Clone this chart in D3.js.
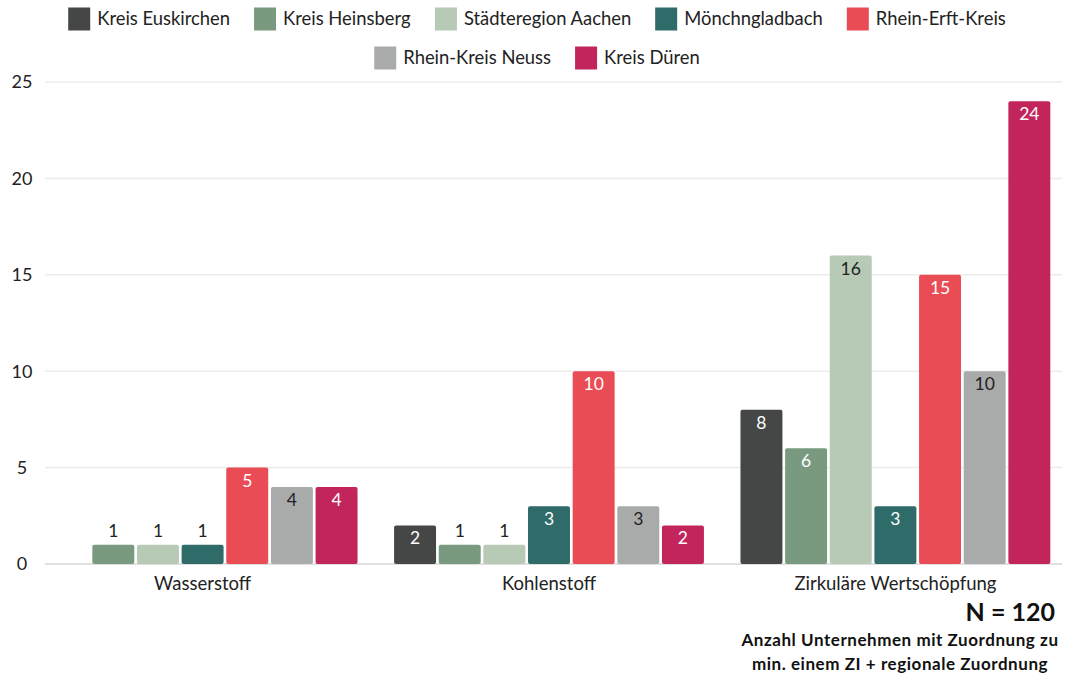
<!DOCTYPE html>
<html>
<head>
<meta charset="utf-8">
<script src="https://cdn.jsdelivr.net/npm/d3@7"></script>
<style>
  body { margin: 0; background: #fff; }
  text { font-family: Lato, "Open Sans", sans-serif; }
</style>
</head>
<body>
<div id="chart"></div>
<script>
// categories + series
var groups = ["Wasserstoff", "Kohlenstoff", "Zirkuläre Wertschöpfung"];
var seriesNames = ["Kreis Euskirchen", "Kreis Heinsberg", "Städteregion Aachen", "Mönchngladbach", "Rhein-Erft-Kreis", "Rhein-Kreis Neuss", "Kreis Düren"];
var euskirchen = [0, 2, 8];
var heinsberg = [1, 1, 6];
var aachen = [1, 1, 16];
var moenchengladbach = [1, 3, 3];
var rheinErft = [5, 10, 15];
var neuss = [4, 3, 10];
var dueren = [4, 2, 24];
var yTicks = [0, 5, 10, 15, 20, 25];

var colors = ["#454646", "#7a9a7f", "#b6cab5", "#2f6b69", "#e94c55", "#a9abab", "#c1255c"];
var labelColors = ["#fff", "#fff", "#222", "#fff", "#fff", "#222", "#fff"];

var values = [euskirchen, heinsberg, aachen, moenchengladbach, rheinErft, neuss, dueren];

var width = 1067, height = 675;
var svg = d3.select("#chart").append("svg")
  .attr("width", width)
  .attr("height", height);

var y = d3.scaleLinear().domain([0, 25]).range([564, 82]);

var x0 = d3.scaleBand()
  .domain(groups)
  .range([45, 1053])
  .paddingInner(0.09)
  .paddingOuter(0);

var x1 = d3.scaleBand()
  .domain(seriesNames)
  .range([0, x0.bandwidth()])
  .padding(0.06);

// gridlines
svg.append("g")
  .selectAll("line")
  .data(yTicks)
  .enter().append("line")
  .attr("x1", 45).attr("x2", 1062)
  .attr("y1", function(d) { return y(d); })
  .attr("y2", function(d) { return y(d); })
  .attr("stroke", function(d) { return d == 0 ? "#d6d6d6" : "#ececec"; })
  .attr("stroke-width", 1.5);

// y tick labels
svg.append("g")
  .selectAll("text")
  .data(yTicks)
  .enter().append("text")
  .attr("x", 22)
  .attr("y", function(d) { return y(d); })
  .attr("dy", "0.35em")
  .attr("text-anchor", "middle")
  .attr("font-size", "18px")
  .attr("fill", "#222")
  .text(function(d) { return d; });

// x labels
svg.append("g")
  .selectAll("text")
  .data(groups)
  .enter().append("text")
  .attr("x", function(d) { return x0(d) + x0.bandwidth() / 2; })
  .attr("y", 590)
  .attr("text-anchor", "middle")
  .attr("font-size", "18.5px")
  .attr("fill", "#222")
  .text(function(d) { return d; });

// bars
var flat = [];
groups.forEach(function(g, gi) {
  seriesNames.forEach(function(s, si) {
    flat.push({ group: g, series: s, si: si, value: values[si][gi] });
  });
});

var bars = svg.append("g")
  .selectAll("g")
  .data(flat.filter(function(d) { return d.value > 0; }))
  .enter().append("g");

bars.append("rect")
  .attr("x", function(d) { return x0(d.group) + x1(d.series); })
  .attr("y", function(d) { return y(d.value); })
  .attr("width", x1.bandwidth())
  .attr("height", function(d) { return y(0) - y(d.value); })
  .attr("rx", 2)
  .attr("fill", function(d) { return colors[d.si]; });

bars.append("text")
  .attr("x", function(d) { return x0(d.group) + x1(d.series) + x1.bandwidth() / 2; })
  .attr("y", function(d) { return d.value >= 2 ? y(d.value) + 19 : y(d.value) - 8; })
  .attr("text-anchor", "middle")
  .attr("font-size", "17.5px")
  .attr("fill", function(d) { return d.value >= 2 ? labelColors[d.si] : "#222"; })
  .text(function(d) { return d.value; });

// legend, two centred rows
var rows = [seriesNames.slice(0, 5), seriesNames.slice(5)];
var rowY = [19, 58];
var gap = 24;
rows.forEach(function(row, ri) {
  var lg = svg.append("g");
  var items = lg.selectAll("g").data(row).enter().append("g");
  items.append("rect")
    .attr("width", 22).attr("height", 23)
    .attr("y", rowY[ri] - 11.5)
    .attr("fill", function(d) { return colors[seriesNames.indexOf(d)]; });
  items.append("text")
    .attr("x", 29)
    .attr("y", rowY[ri])
    .attr("dy", "0.35em")
    .attr("font-size", "18.4px")
    .attr("fill", "#222")
    .text(function(d) { return d; });
  var xpos = 0;
  items.each(function() {
    var w = this.getBBox().width;
    d3.select(this).attr("transform", "translate(" + xpos + ",0)");
    xpos += w + gap;
  });
  var total = xpos - gap;
  lg.attr("transform", "translate(" + (537 - total / 2) + ",0)");
});

// note bottom right
svg.append("text")
  .attr("x", 1055).attr("y", 621)
  .attr("text-anchor", "end")
  .attr("font-size", "25px")
  .attr("font-weight", 700)
  .attr("fill", "#111")
  .text("N = 120");
svg.append("text")
  .attr("x", 900).attr("y", 646)
  .attr("text-anchor", "middle")
  .attr("font-size", "17px")
  .attr("font-weight", 700)
  .attr("letter-spacing", "0.55px")
  .attr("fill", "#111")
  .text("Anzahl Unternehmen mit Zuordnung zu");
svg.append("text")
  .attr("x", 900).attr("y", 670)
  .attr("text-anchor", "middle")
  .attr("font-size", "17px")
  .attr("font-weight", 700)
  .attr("letter-spacing", "0.55px")
  .attr("fill", "#111")
  .text("min. einem ZI + regionale Zuordnung");
</script>
</body>
</html>
